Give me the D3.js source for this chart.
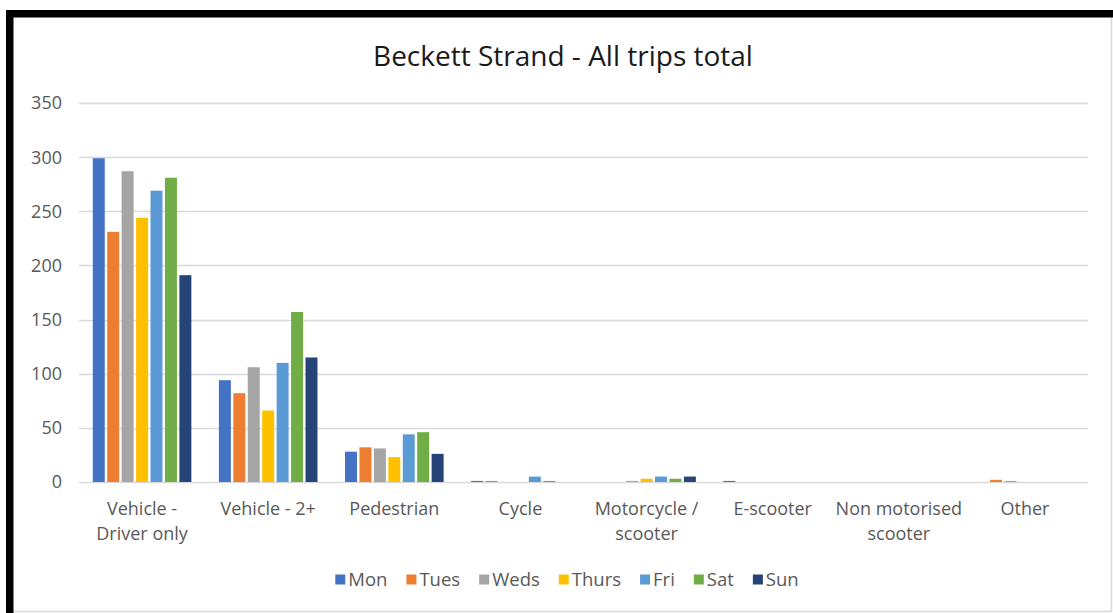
<!DOCTYPE html>
<html>
<head>
<meta charset="utf-8">
<script src="https://cdn.jsdelivr.net/npm/d3@7"></script>
<style>
  html, body { margin: 0; padding: 0; background: #ffffff; }
  svg { display: block; }
  text { font-family: "Open Sans", "Lato", sans-serif; }
</style>
</head>
<body>
<svg id="chart" width="1113" height="613"></svg>
<script>
// Trip counts by mode of travel, one series per day of the week
const categories = [
  ["Vehicle -", "Driver only"],
  ["Vehicle - 2+"],
  ["Pedestrian"],
  ["Cycle"],
  ["Motorcycle /", "scooter"],
  ["E-scooter"],
  ["Non motorised", "scooter"],
  ["Other"]
];
const days = ["Mon", "Tues", "Weds", "Thurs", "Fri", "Sat", "Sun"];
const mon   = [299, 94, 28, 1, 0, 1, 0, 0];
const tues  = [231, 82, 32, 1, 0, 0, 0, 2];
const weds  = [287, 106, 31, 0, 1, 0, 0, 1];
const thurs = [244, 66, 23, 0, 3, 0, 0, 0];
const fri   = [269, 110, 44, 5, 5, 0, 0, 0];
const sat   = [281, 157, 46, 1, 3, 0, 0, 0];
const sun   = [191, 115, 26, 0, 5, 0, 0, 0];
const yTicks = [0, 50, 100, 150, 200, 250, 300, 350];
const title = "Beckett Strand - All trips total";

const seriesValues = [mon, tues, weds, thurs, fri, sat, sun];
const colors = ["#4472C4", "#ED7D31", "#A5A5A5", "#FFC000", "#5B9BD5", "#70AD47", "#264478"];

const svg = d3.select("#chart");

// Frame: heavy black top/left edges, thin grey right/bottom edges
svg.append("rect").attr("x", 0).attr("y", 0).attr("width", 1113).attr("height", 613).attr("fill", "#ffffff");
svg.append("line").attr("x1", 13).attr("x2", 1111).attr("y1", 611.5).attr("y2", 611.5)
  .attr("stroke", "#d9d9d9").attr("stroke-width", 1.5);
svg.append("line").attr("x1", 1111.5).attr("x2", 1111.5).attr("y1", 14).attr("y2", 612)
  .attr("stroke", "#d9d9d9").attr("stroke-width", 1.5);
svg.append("rect").attr("x", 6).attr("y", 10).attr("width", 1107).attr("height", 7.5).attr("fill", "#000");
svg.append("rect").attr("x", 6).attr("y", 10).attr("width", 7.5).attr("height", 603).attr("fill", "#000");

const plot = { left: 79, right: 1088, top: 103, bottom: 482 };

const x = d3.scaleBand()
  .domain(d3.range(categories.length))
  .range([plot.left, plot.right])
  .paddingInner(0)
  .paddingOuter(0);

const y = d3.scaleLinear()
  .domain([0, 350])
  .range([plot.bottom, plot.top]);

// Bars inside a category occupy the middle ~80% of the band
const groupWidth = x.bandwidth() * 0.80;
const xs = d3.scaleBand()
  .domain(d3.range(days.length))
  .range([0, groupWidth])
  .paddingInner(0.17)
  .paddingOuter(0.08);

// Gridlines
svg.append("g")
  .selectAll("line")
  .data(yTicks)
  .join("line")
  .attr("x1", plot.left)
  .attr("x2", plot.right)
  .attr("y1", d => Math.round(y(d)) + 0.5)
  .attr("y2", d => Math.round(y(d)) + 0.5)
  .attr("stroke", "#d9d9d9")
  .attr("stroke-width", 1.3);

// Y axis labels
svg.append("g")
  .selectAll("text")
  .data(yTicks)
  .join("text")
  .attr("x", 62)
  .attr("y", d => y(d))
  .attr("dy", "0.36em")
  .attr("text-anchor", "end")
  .attr("font-size", 18)
  .attr("fill", "#595959")
  .text(d => d);

// Bars
const groups = svg.append("g")
  .selectAll("g")
  .data(seriesValues)
  .join("g")
  .attr("fill", (d, i) => colors[i]);

groups.each(function (vals, si) {
  d3.select(this)
    .selectAll("rect")
    .data(vals.map((v, ci) => ({ v, ci })))
    .join("rect")
    .attr("x", d => x(d.ci) + (x.bandwidth() - groupWidth) / 2 + xs(si))
    .attr("width", xs.bandwidth())
    .attr("y", d => y(d.v))
    .attr("height", d => y(0) - y(d.v));
});

// Category labels
const catLabels = svg.append("g")
  .selectAll("text")
  .data(categories)
  .join("text")
  .attr("x", (d, i) => x(i) + x.bandwidth() / 2)
  .attr("y", 515)
  .attr("text-anchor", "middle")
  .attr("font-size", 18)
  .attr("fill", "#595959");
catLabels.each(function (lines) {
  d3.select(this).selectAll("tspan")
    .data(lines)
    .join("tspan")
    .attr("x", d3.select(this).attr("x"))
    .attr("dy", (d, i) => i === 0 ? 0 : 25)
    .text(d => d);
});

// Title
svg.append("text")
  .attr("x", 563)
  .attr("y", 66)
  .attr("text-anchor", "middle")
  .attr("font-size", 28)
  .attr("fill", "#1a1a1a")
  .text(title);

// Legend
const legend = svg.append("g");
let cursor = 0;
days.forEach((d, i) => {
  const g = legend.append("g");
  g.append("rect").attr("x", 0).attr("y", -5).attr("width", 10).attr("height", 10).attr("fill", colors[i]);
  const t = g.append("text").attr("x", 13).attr("y", 0).attr("dy", "0.36em")
    .attr("font-size", 18.5).attr("fill", "#595959").text(d);
  const w = 13 + t.node().getComputedTextLength();
  g.attr("transform", `translate(${cursor},0)`);
  cursor += w + 19;
});
const legendWidth = cursor - 19;
legend.attr("transform", `translate(${567 - legendWidth / 2},579.5)`);
</script>
</body>
</html>
